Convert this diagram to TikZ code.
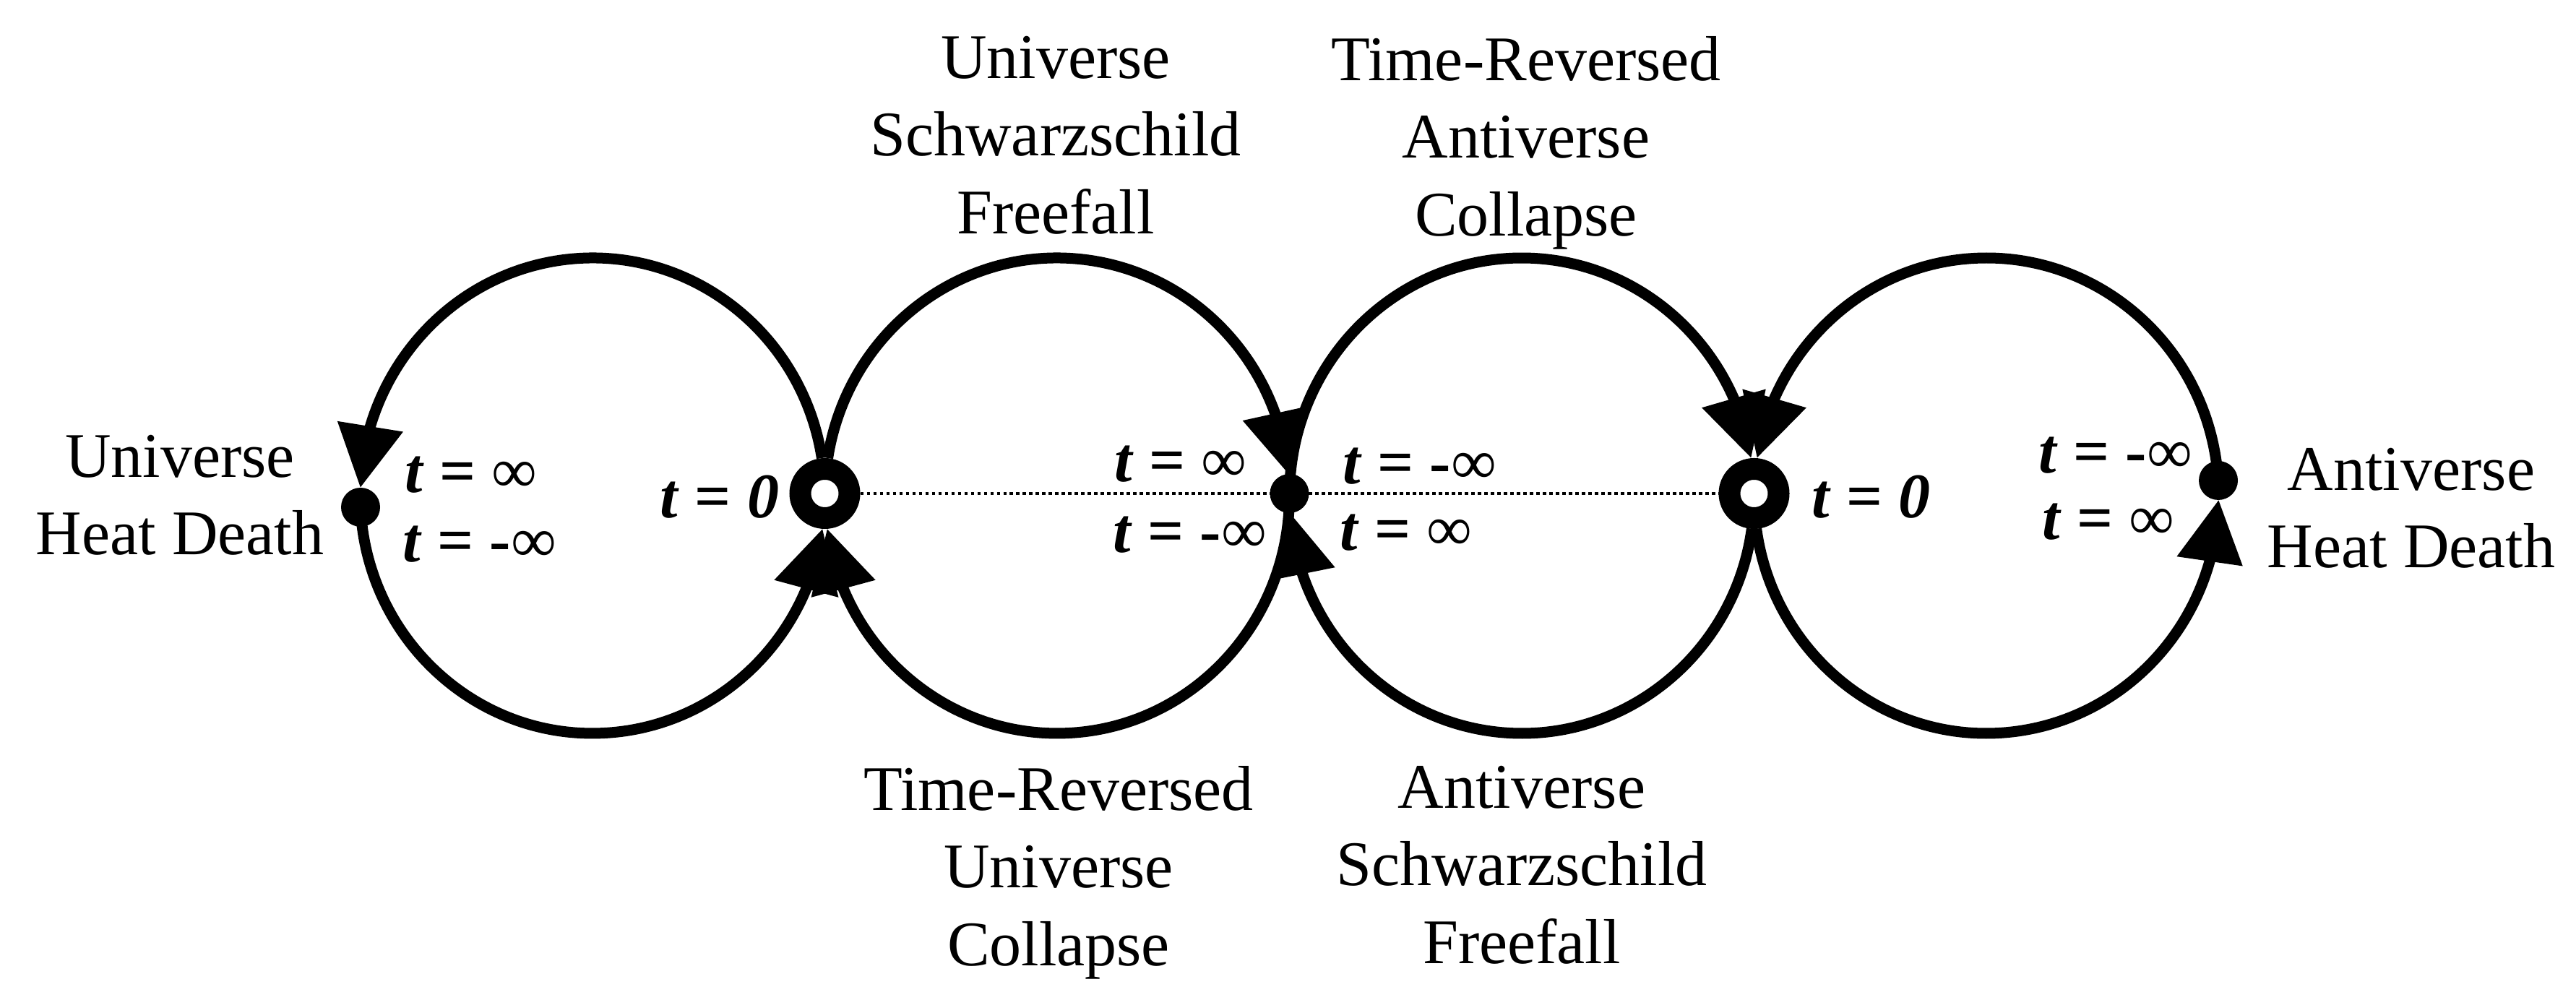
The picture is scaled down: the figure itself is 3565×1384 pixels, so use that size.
\documentclass[tikz,border=0pt]{standalone}
\usepackage{fontspec}
\setmainfont{Liberation Serif}
\usetikzlibrary{arrows.meta,bending}
\newcommand\TeqInf{\textbf{\textit{t} = }∞}
\newcommand\TeqNInf{\textbf{\textit{t} = -}∞}
\newcommand\TeqZero{\textbf{\textit{t} = \textit{0}}}
\begin{document}
\begin{tikzpicture}[x=0.1pt,y=0.1pt,
  flow/.style={line width=1.5pt, -{Triangle[length=8.6pt,width=8.8pt]}},
  dotnode/.style={circle, fill=black, minimum size=5.4pt, inner sep=0pt, outer sep=0pt},
  ringnode/.style={circle, draw=black, fill=white, line width=3pt, minimum size=6.8pt, inner sep=0pt},
  dotline/.style={line width=0.4pt, dash pattern=on 0.45pt off 0.45pt},
  lab/.style={font=\fontsize{8.8pt}{10.75pt}\selectfont, align=center, anchor=north, inner sep=0pt},
  tlab/.style={font=\fontsize{8.8pt}{10.75pt}\selectfont, inner sep=0pt, anchor=base west},
  ell/.style={x radius=32.15pt, y radius=32.9pt}
]
\useasboundingbox (0,0) rectangle (3565,1384);
\coordinate (Ca) at (820,698);
\coordinate (Cb) at (1463,698);
\coordinate (Cc) at (2106,698);
\coordinate (Cd) at (2749,698);

% circle 1 (counterclockwise)
\draw[flow] ([shift={(9.1:32.15pt and 32.9pt)}]Ca) arc[ell,start angle=9.1,end angle=178.1];
\draw[flow] ([shift={(182.8:32.15pt and 32.9pt)}]Ca) arc[ell,start angle=182.8,end angle=352];
% circle 2 (clockwise)
\draw[flow] ([shift={(170.9:32.15pt and 32.9pt)}]Cb) arc[ell,start angle=170.9,end angle=5.2];
\draw[flow] ([shift={(0.5:32.15pt and 32.9pt)}]Cb) arc[ell,start angle=0.5,end angle=-172];
% circle 3 (clockwise)
\draw[flow] ([shift={(179.5:32.15pt and 32.9pt)}]Cc) arc[ell,start angle=179.5,end angle=9.1];
\draw[flow] ([shift={(-8:32.15pt and 32.9pt)}]Cc) arc[ell,start angle=-8,end angle=-175.8];
% circle 4 (counterclockwise)
\draw[flow] ([shift={(3.7:32.15pt and 32.9pt)}]Cd) arc[ell,start angle=3.7,end angle=170.9];
\draw[flow] ([shift={(188:32.15pt and 32.9pt)}]Cd) arc[ell,start angle=188,end angle=359];

\node[ringnode] (ringL) at (1141.5,701) {};
\node[ringnode] (ringR) at (2427.5,701) {};
\draw[dotline] (ringL) -- (ringR);
\node[dotnode] (dotL) at (499,682) {};
\node[dotnode] (dotM) at (1784.5,701) {};
\node[dotnode] (dotR) at (3070,719) {};

\node[lab] (lblL) at (249,784) {Universe\\Heat Death};
\node[lab] (lblR) at (3337,766) {Antiverse\\Heat Death};
\node[lab] (lblT1) at (1461,1336) {Universe\\Schwarzschild\\Freefall};
\node[lab] (lblT2) at (2112,1336) {Time-Reversed\\Antiverse\\Collapse};
\node[lab] (lblB1) at (1465,326) {Time-Reversed\\Universe\\Collapse};
\node[lab] (lblB2) at (2106,326) {Antiverse\\Schwarzschild\\Freefall};

\node[tlab] (tL1) at (558,702) {\TeqInf};
\node[tlab] (tL2) at (555,606) {\TeqNInf};
\node[tlab, anchor=base east] (tZ1) at (1080,667) {\TeqZero};
\node[tlab] (tM1) at (1540,717) {\TeqInf};
\node[tlab] (tM2) at (1538,619) {\TeqNInf};
\node[tlab] (tM3) at (1856,714) {\TeqNInf};
\node[tlab] (tM4) at (1852,622) {\TeqInf};
\node[tlab] (tZ2) at (2505,667) {\TeqZero};
\node[tlab] (tR1) at (2819,729) {\TeqNInf};
\node[tlab] (tR2) at (2824,637) {\TeqInf};
\end{tikzpicture}
\end{document}
